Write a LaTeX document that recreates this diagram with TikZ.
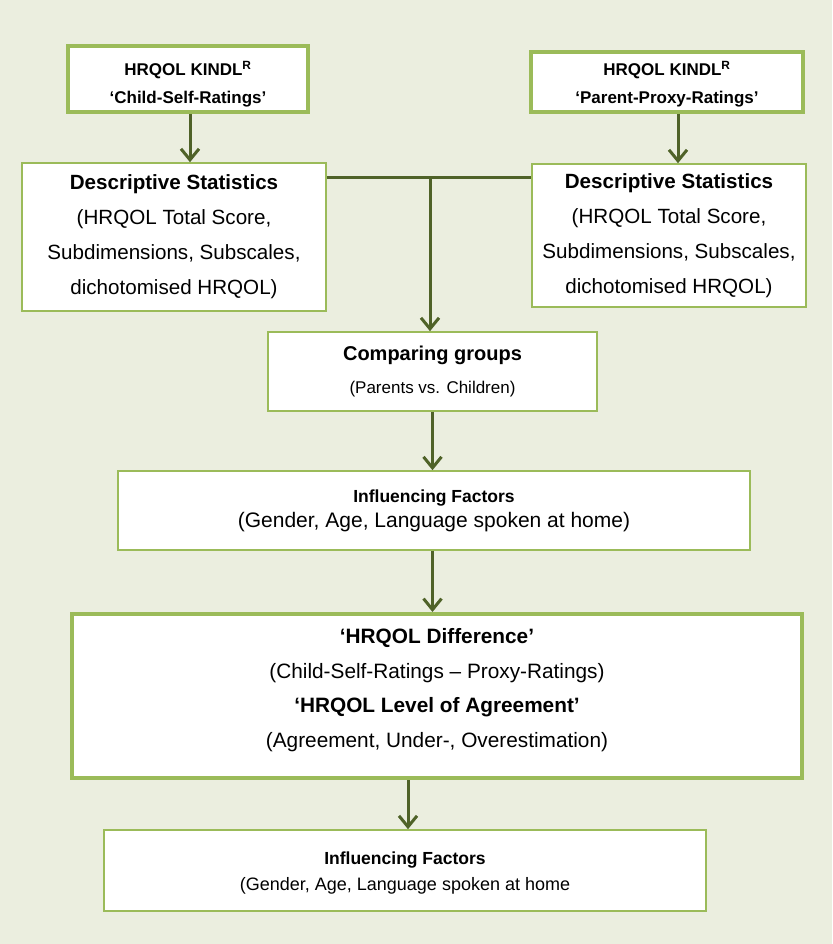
\documentclass[tikz,border=0pt]{standalone}
\usepackage{fontspec}
\setmainfont{Liberation Sans}
\usetikzlibrary{arrows.meta}
\usetikzlibrary{positioning}
\definecolor{boxgreen}{HTML}{9BBB59}
\definecolor{arrowgreen}{HTML}{4F6228}
\definecolor{bggreen}{HTML}{EBEEDF}
\newcommand{\fsz}[2]{\fontsize{#1}{#2}\selectfont}

\begin{document}
\begin{tikzpicture}[
  x=1pt, y=-1pt,
  box/.style={draw=boxgreen, line width=1.6pt, fill=white, align=center, inner sep=0pt},
  thickbox/.style={box, line width=4pt},
  arr/.style={draw=arrowgreen, line width=3pt, -{Straight Barb[length=11pt,width=18pt,line width=3pt]}}
]
\fill[bggreen] (0,0) rectangle (832,944);

% ratings
\node[thickbox, minimum width=240, minimum height=66,
  label={[align=center, font=\fsz{17}{28}\bfseries, yshift=-5pt]center:HRQOL KINDL\textsuperscript{R}\\‘Child-Self-Ratings’}]
  (selfkindl) at (188,79) {};
\node[thickbox, minimum width=272, minimum height=60,
  label={[align=center, font=\fsz{17}{28}\bfseries, yshift=-2pt]center:HRQOL KINDL\textsuperscript{R}\\‘Parent-Proxy-Ratings’}]
  (proxykindl) at (667,82) {};

% descriptive statistics
\node[box, minimum width=304, minimum height=148, font=\fsz{20.6}{35}] (selfdesc) at (174,237)
  {\textbf{Descriptive Statistics}\\(HRQOL Total Score,\\Subdimensions, Subscales,\\dichotomised HRQOL)};
\node[box, minimum width=274, minimum height=143, font=\fsz{20.6}{35}] (proxydesc) at (669,235.5)
  {\textbf{Descriptive Statistics}\\(HRQOL Total Score,\\Subdimensions, Subscales,\\dichotomised HRQOL)};

% comparison and factors
\node[box, minimum width=329, minimum height=79, font=\fsz{17}{33}] (compare) at (432.5,371.5)
  {\fsz{20}{33}\textbf{Comparing groups}\\(Parents vs. Children)};
\node[box, minimum width=632, minimum height=79, font=\fsz{21}{25}] (factorsA) at (434,510.5)
  {\fsz{17.5}{25}\textbf{Influencing Factors}\\(Gender, Age, Language spoken at home)};
\node[thickbox, minimum width=730, minimum height=164,
  label={[align=center, font=\fsz{20.8}{34.5}, yshift=6pt]center:\textbf{‘HRQOL Difference’}\\(Child-Self-Ratings – Proxy-Ratings)\\\textbf{‘HRQOL Level of Agreement’}\\(Agreement, Under-, Overestimation)}]
  (difference) at (437,696) {};
\node[box, minimum width=602, minimum height=81,
  label={[align=center, font=\fsz{18}{26}, yshift=-3pt]center:\fsz{17.5}{26}\textbf{Influencing Factors}\\(Gender, Age, Language spoken at home}]
  (factorsB) at (405,870.5) {};

% connectors
\coordinate (join) at (430,178);
\draw[arr] ([xshift=2pt]selfkindl.south) -- ([xshift=2pt]selfkindl.south |- selfdesc.north);
\draw[arr] ([xshift=11pt]proxykindl.south) -- ([xshift=11pt]proxykindl.south |- proxydesc.north);
\draw[draw=arrowgreen, line width=3pt] (join -| selfdesc.east) -- (join -| proxydesc.west);
\draw[arr] (join) -- (join |- compare.north);
\draw[arr] (compare.south) -- (compare.south |- factorsA.north);
\draw[arr] (factorsA.south -| compare.south) -- (compare.south |- difference.north);
\draw[arr] ([xshift=3pt]factorsB.north |- difference.south) -- ([xshift=3pt]factorsB.north);
\end{tikzpicture}
\end{document}
